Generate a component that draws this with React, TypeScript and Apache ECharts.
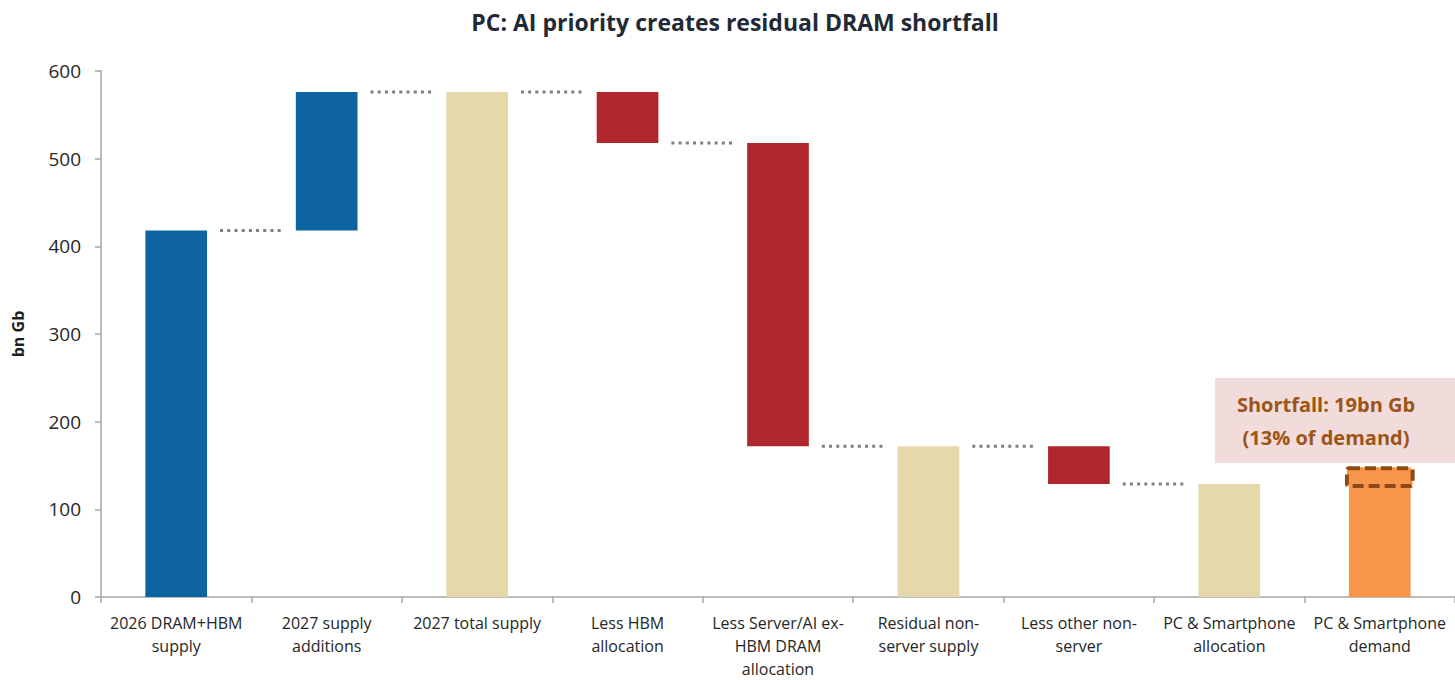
import React, { useEffect, useRef } from "react";
import * as echarts from "echarts";

const categories = [
  "2026 DRAM+HBM\nsupply",
  "2027 supply\nadditions",
  "2027 total supply",
  "Less HBM\nallocation",
  "Less Server/AI ex-\nHBM DRAM\nallocation",
  "Residual non-\nserver supply",
  "Less other non-\nserver",
  "PC & Smartphone\nallocation",
  "PC & Smartphone\ndemand",
];
// invisible base of each floating bar, and the visible bar height
const barBase = [0, 418, 0, 518, 172, 0, 129, 0, 0];
const barValue = [418, 158, 576, 58, 346, 172, 43, 129, 148];
const barKind = ["supply", "supply", "total", "less", "less", "total", "less", "total", "demand"];
// dotted connector level drawn after bar i
const connectorLevels = [418, 576, 576, 518, 172, 172, 129];
const shortfallRange = [129, 148];
const yTicks = [0, 100, 200, 300, 400, 500, 600];

const kindColor: Record<string, string> = {
  supply: "#0d64a0",
  total: "#e6d8ab",
  less: "#b0262d",
  demand: "#f7964a",
};

const FONT = "'Open Sans', 'Noto Sans', sans-serif";

export default function App() {
  const ref = useRef<HTMLDivElement>(null);
  useEffect(() => {
    if (!ref.current) return;
    const chart = echarts.init(ref.current, null, { renderer: "svg" });
    const barWidthRatio = 0.41;
    chart.setOption({
      animation: false,
      backgroundColor: "#ffffff",
      title: {
        text: "PC: AI priority creates residual DRAM shortfall",
        left: 730,
        textAlign: "center",
        top: 5,
        textStyle: { fontFamily: FONT, fontSize: 23, fontWeight: "bold", color: "#1f2a36" },
      },
      grid: { left: 101, right: 0, top: 71, bottom: 83, containLabel: false },
      xAxis: {
        type: "category",
        data: categories,
        axisLine: { lineStyle: { color: "#a6a6a6", width: 1.5 } },
        axisTick: { show: true, length: 6, lineStyle: { color: "#a6a6a6", width: 1.5 } },
        axisLabel: {
          interval: 0,
          margin: 14,
          fontFamily: FONT,
          fontSize: 16,
          lineHeight: 23,
          color: "#262626",
        },
      },
      yAxis: {
        type: "value",
        min: yTicks[0],
        max: yTicks[yTicks.length - 1],
        interval: 100,
        name: "bn Gb",
        nameLocation: "middle",
        nameGap: 75,
        nameTextStyle: { fontFamily: FONT, fontSize: 16, fontWeight: "bold", color: "#1f1f1f" },
        axisLine: { show: true, lineStyle: { color: "#a6a6a6", width: 1.5 } },
        axisTick: { show: true, length: 6, lineStyle: { color: "#a6a6a6", width: 1.5 } },
        splitLine: { show: false },
        axisLabel: { fontFamily: FONT, fontSize: 19, color: "#262626", margin: 20 },
      },
      series: [
        {
          type: "bar",
          stack: "wf",
          silent: true,
          barWidth: barWidthRatio * 100 + "%",
          itemStyle: { color: "transparent" },
          data: barBase,
        },
        {
          type: "bar",
          stack: "wf",
          barWidth: barWidthRatio * 100 + "%",
          data: barValue.map((v, i) => ({ value: v, itemStyle: { color: kindColor[barKind[i]] } })),
        },
        {
          type: "custom",
          silent: true,
          data: connectorLevels.map((lv, i) => [i, lv]),
          renderItem: (params: any, api: any) => {
            const i = api.value(0);
            const lv = api.value(1);
            const p = api.coord([i, lv]);
            const band = api.size([1, 0])[0];
            const half = (band * barWidthRatio) / 2;
            const x1 = p[0] + half + 13;
            const x2 = p[0] + band - half - 15;
            return {
              type: "line",
              shape: { x1, y1: p[1], x2, y2: p[1] },
              style: { stroke: "#7f7f7f", lineWidth: 3, lineDash: [3, 4.2] },
            };
          },
        },
        {
          type: "custom",
          silent: true,
          z: 5,
          data: [[8, shortfallRange[0], shortfallRange[1]]],
          renderItem: (params: any, api: any) => {
            const i = api.value(0);
            const lo = api.coord([i, api.value(1)]);
            const hi = api.coord([i, api.value(2)]);
            const band = api.size([1, 0])[0];
            const w = band * barWidthRatio + 4;
            return {
              type: "rect",
              shape: { x: lo[0] - w / 2, y: hi[1] + 1, width: w, height: lo[1] - hi[1] + 1, r: 2 },
              style: { fill: kindColor.demand, stroke: "#8c4a14", lineWidth: 4, lineDash: [11, 5] },
            };
          },
        },
      ],
      graphic: [
        {
          type: "rect",
          shape: { x: 1215, y: 378, width: 240, height: 85 },
          style: { fill: "#f2dcdb" },
          silent: true,
        },
        {
          type: "text",
          x: 1326,
          y: 421,
          style: {
            text: "Shortfall: 19bn Gb\n(13% of demand)",
            align: "center",
            verticalAlign: "middle",
            fontFamily: FONT,
            fontSize: 20,
            fontWeight: "bold",
            lineHeight: 33,
            fill: "#9c5417",
          },
          silent: true,
        },
      ],
    });
    return () => chart.dispose();
  }, []);
  return (
    <div
      ref={ref}
      style={{ position: "fixed", left: 0, top: 0, width: 1455, height: 680, background: "#fff" }}
    />
  );
}
